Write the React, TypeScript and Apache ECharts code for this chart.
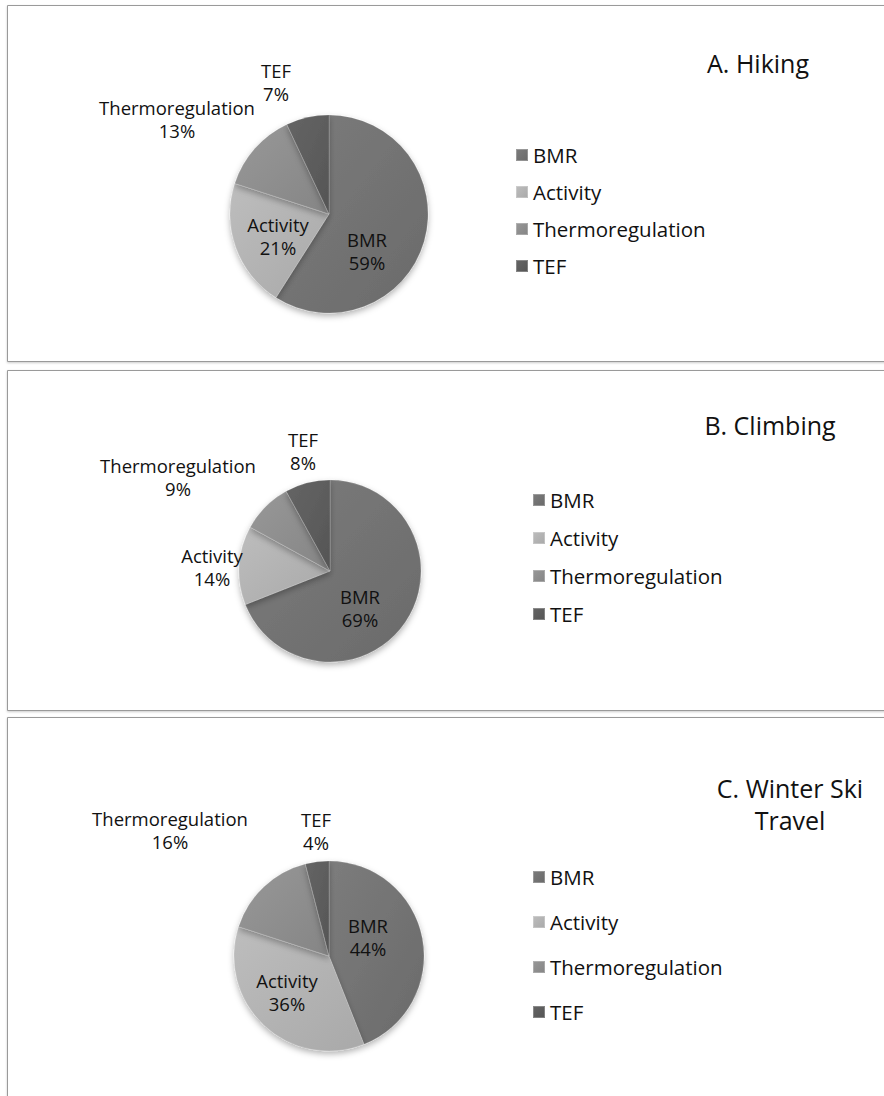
import React, { useEffect, useRef } from "react";
import * as echarts from "echarts";

const categories = ["BMR", "Activity", "Thermoregulation", "TEF"];
const hikingValues = [59, 21, 13, 7];
const climbingValues = [69, 14, 9, 8];
const skiValues = [44, 36, 16, 4];
const panelTitles = ["A. Hiking", "B. Climbing", "C. Winter Ski\nTravel"];

const FONT = "'Open Sans', sans-serif";

const sliceColors = [
  ["#7c7c7c", "#6a6a6a"],
  ["#bdbdbd", "#a9a9a9"],
  ["#989898", "#858585"],
  ["#656565", "#555555"],
];

const layout = [
  {
    rect: [7.5, 5.5, 900, 356],
    center: [329, 214],
    radius: 99,
    title: [758, 63],
    legend: { left: 515, top: 143, gap: 13 },
    labels: [[367, 251], [278, 236], [177, 119], [276, 82]],
  },
  {
    rect: [7.5, 370.5, 900, 340],
    center: [330, 571],
    radius: 91,
    title: [770, 425],
    legend: { left: 532, top: 488, gap: 14 },
    labels: [[360, 608], [212, 567], [178, 477], [303, 451]],
  },
  {
    rect: [7.5, 717.5, 900, 420],
    center: [329, 956],
    radius: 95,
    title: [790, 804],
    legend: { left: 532, top: 865, gap: 21 },
    labels: [[368, 937], [287, 992], [170, 830], [316, 831]],
  },
];

const allValues = [hikingValues, climbingValues, skiValues];

function grad(i: number) {
  return new echarts.graphic.LinearGradient(0, 0, 1, 1, [
    { offset: 0, color: sliceColors[i][0] },
    { offset: 1, color: sliceColors[i][1] },
  ]);
}

export default function App() {
  const ref = useRef<HTMLDivElement>(null);
  useEffect(() => {
    if (!ref.current) return;
    const chart = echarts.init(ref.current, null, { renderer: "svg" });

    const series = allValues.map((vals, p) => ({
      type: "pie",
      name: panelTitles[p],
      center: layout[p].center,
      radius: layout[p].radius,
      startAngle: 90,
      clockwise: true,
      percentPrecision: 0,
      avoidLabelOverlap: false,
      itemStyle: {
        borderColor: "rgba(255,255,255,0.25)",
        borderWidth: 0.6,
        shadowBlur: 6,
        shadowColor: "rgba(0,0,0,0.3)",
        shadowOffsetY: 3,
      },
      emphasis: { disabled: true },
      label: {
        show: true,
        position: "inside",
        formatter: "{b}\n{d}%",
        color: "#111",
        fontFamily: FONT,
        fontSize: 18.5,
        lineHeight: 23,
        align: "center",
      },
      labelLine: { show: false },
      labelLayout: (params: any) => {
        const pos = layout[p].labels[params.dataIndex];
        return { x: pos[0], y: pos[1], align: "center", verticalAlign: "middle" };
      },
      data: categories.map((c, i) => ({
        name: c,
        value: vals[i],
        itemStyle: { color: grad(i) },
      })),
    }));

    const legends = layout.map((l) => ({
      data: categories,
      orient: "vertical",
      left: l.legend.left,
      top: l.legend.top,
      itemGap: l.legend.gap,
      itemWidth: 12,
      itemHeight: 12,
      padding: 0,
      icon: "rect",
      selectedMode: false,
      textStyle: {
        fontFamily: FONT,
        fontSize: 20.5,
        lineHeight: 24,
        color: "#111",
      },
    }));

    const graphics: any[] = [];
    layout.forEach((l, p) => {
      graphics.push({
        type: "rect",
        silent: true,
        z: -1,
        shape: { x: l.rect[0], y: l.rect[1], width: l.rect[2], height: l.rect[3] },
        style: {
          fill: "#fff",
          stroke: "#9a9a9a",
          lineWidth: 1,
          shadowBlur: 2,
          shadowOffsetY: 1,
          shadowColor: "rgba(0,0,0,0.2)",
        },
      });
      graphics.push({
        type: "text",
        x: l.title[0],
        y: l.title[1],
        style: {
          text: panelTitles[p],
          fontFamily: FONT,
          fontSize: 25,
          lineHeight: 32,
          fill: "#111",
          align: "center",
          verticalAlign: "middle",
        },
      });
    });

    chart.setOption({
      animation: false,
      backgroundColor: "#fff",
      legend: legends,
      series,
      graphic: graphics,
    });
    return () => chart.dispose();
  }, []);

  return (
    <div
      ref={ref}
      style={{ position: "absolute", left: 0, top: 0, width: 884, height: 1096 }}
    />
  );
}
